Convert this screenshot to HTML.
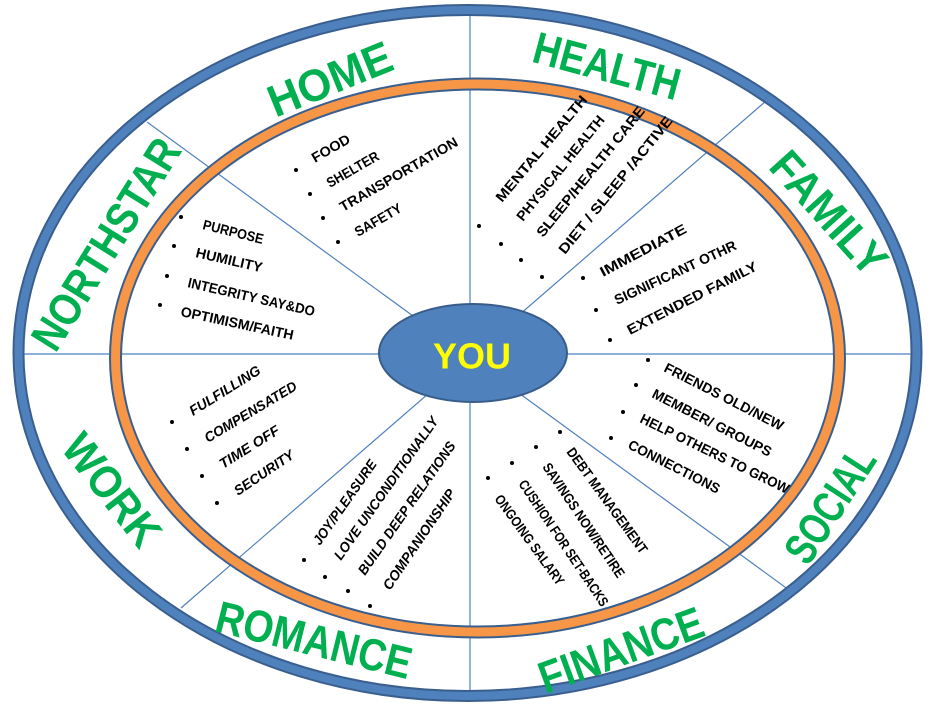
<!DOCTYPE html>
<html><head><meta charset="utf-8"><style>
html,body{margin:0;padding:0;background:#fff;}
svg{display:block;}
.b{font-family:"Liberation Sans",sans-serif;font-weight:bold;fill:#00b050;font-size:45px;}
.s{font-family:"Liberation Sans",sans-serif;font-weight:bold;fill:#000;font-size:14px;}
.i{font-style:italic;}
</style></head><body>
<svg width="939" height="709" viewBox="0 0 939 709" xmlns="http://www.w3.org/2000/svg">
<rect width="939" height="709" fill="#fff"/>
<g stroke="#4f81bd" stroke-width="1.2">
<line x1="470" y1="8" x2="470" y2="698"/>
<line x1="19" y1="354" x2="918" y2="354"/>
<line x1="147" y1="122" x2="789" y2="590"/>
<line x1="766" y1="101" x2="181" y2="608"/>
</g>
<ellipse cx="467.5" cy="353" rx="449" ry="343" fill="none" stroke="#3a5f8f" stroke-width="12"/>
<ellipse cx="467.5" cy="353" rx="449" ry="343" fill="none" stroke="#4f81bd" stroke-width="8"/>
<ellipse cx="477.5" cy="358" rx="362" ry="274" fill="none" stroke="#3a5f8f" stroke-width="13"/>
<ellipse cx="477.5" cy="358" rx="362" ry="274" fill="none" stroke="#f79646" stroke-width="9"/>
<ellipse cx="473" cy="353" rx="94" ry="49" fill="#4f81bd" stroke="#385d8a" stroke-width="2"/>
<text x="472" y="356" text-anchor="middle" dominant-baseline="central" font-family="Liberation Sans, sans-serif" font-weight="bold" font-size="36" fill="#ffff00">YOU</text>

<text class="b" text-anchor="middle" dominant-baseline="central" textLength="130" lengthAdjust="spacingAndGlyphs" transform="translate(330,79) rotate(-22)">HOME</text>
<text class="b" text-anchor="middle" dominant-baseline="central" textLength="150" lengthAdjust="spacingAndGlyphs" transform="translate(607,66) rotate(15)">HEALTH</text>
<text class="b" text-anchor="middle" dominant-baseline="central" textLength="150" lengthAdjust="spacingAndGlyphs" transform="translate(829,213) rotate(48)">FAMILY</text>
<text class="b" text-anchor="middle" dominant-baseline="central" textLength="240" lengthAdjust="spacingAndGlyphs" transform="translate(106,244) rotate(-58)">NORTHSTAR</text>
<text class="b" text-anchor="middle" dominant-baseline="central" textLength="130" lengthAdjust="spacingAndGlyphs" transform="translate(112,490) rotate(52)">WORK</text>
<text class="b" text-anchor="middle" dominant-baseline="central" textLength="200" lengthAdjust="spacingAndGlyphs" transform="translate(314,640) rotate(14)">ROMANCE</text>
<text class="b" text-anchor="middle" dominant-baseline="central" textLength="172" lengthAdjust="spacingAndGlyphs" transform="translate(621,650) rotate(-20)">FINANCE</text>
<text class="b" text-anchor="middle" dominant-baseline="central" textLength="128" lengthAdjust="spacingAndGlyphs" transform="translate(830,505) rotate(-57)">SOCIAL</text>

<g fill="#000">
<circle cx="181" cy="217" r="2"/><circle cx="174" cy="246" r="2"/><circle cx="167" cy="276" r="2"/><circle cx="160" cy="305" r="2"/>
<circle cx="296" cy="170" r="2"/><circle cx="310" cy="194" r="2"/><circle cx="323" cy="218" r="2"/><circle cx="338" cy="242" r="2"/>
<circle cx="479" cy="226" r="2"/><circle cx="501" cy="244" r="2"/><circle cx="521" cy="260" r="2"/><circle cx="542" cy="277" r="2"/>
<circle cx="583" cy="278" r="2"/><circle cx="596" cy="310" r="2"/><circle cx="610" cy="340" r="2"/>
<circle cx="648" cy="360" r="2"/><circle cx="636" cy="385" r="2"/><circle cx="623" cy="412" r="2"/><circle cx="611" cy="438" r="2"/>
<circle cx="560" cy="432" r="2"/><circle cx="536" cy="447" r="2"/><circle cx="512" cy="463" r="2"/><circle cx="488" cy="478" r="2"/>
<circle cx="304" cy="560" r="2"/><circle cx="325" cy="577" r="2"/><circle cx="348" cy="591" r="2"/><circle cx="370" cy="606" r="2"/>
<circle cx="172" cy="422" r="2"/><circle cx="187" cy="449" r="2"/><circle cx="202" cy="476" r="2"/><circle cx="217" cy="503" r="2"/>
</g>

<text class="s" textLength="62" lengthAdjust="spacingAndGlyphs" transform="translate(202,229) rotate(14)">PURPOSE</text>
<text class="s" textLength="68" lengthAdjust="spacingAndGlyphs" transform="translate(195,257) rotate(13)">HUMILITY</text>
<text class="s" textLength="130" lengthAdjust="spacingAndGlyphs" transform="translate(187,287) rotate(13)">INTEGRITY SAY&amp;DO</text>
<text class="s" textLength="115" lengthAdjust="spacingAndGlyphs" transform="translate(180,316) rotate(12)">OPTIMISM/FAITH</text>

<text class="s" textLength="42" lengthAdjust="spacingAndGlyphs" transform="translate(315,163) rotate(-30)">FOOD</text>
<text class="s" textLength="58" lengthAdjust="spacingAndGlyphs" transform="translate(330,188) rotate(-30)">SHELTER</text>
<text class="s" textLength="134" lengthAdjust="spacingAndGlyphs" transform="translate(343,212) rotate(-30)">TRANSPORTATION</text>
<text class="s" textLength="52" lengthAdjust="spacingAndGlyphs" transform="translate(358,237) rotate(-30)">SAFETY</text>

<text class="s" textLength="134" lengthAdjust="spacingAndGlyphs" transform="translate(502,203) rotate(-50)">MENTAL HEALTH</text>
<text class="s" textLength="131" lengthAdjust="spacingAndGlyphs" transform="translate(523,222) rotate(-51)" font-size="12">PHYSICAL HEALTH</text>
<text class="s" textLength="163" lengthAdjust="spacingAndGlyphs" transform="translate(543,238) rotate(-51)">SLEEP/HEALTH CARE</text>
<text class="s" textLength="172" lengthAdjust="spacingAndGlyphs" transform="translate(565,255) rotate(-51)">DIET / SLEEP  /ACTIVE</text>

<text class="s" textLength="96" lengthAdjust="spacingAndGlyphs" transform="translate(603,277) rotate(-28)">IMMEDIATE</text>
<text class="s" textLength="133" lengthAdjust="spacingAndGlyphs" transform="translate(617,305) rotate(-25)" font-size="12">SIGNIFICANT OTHR</text>
<text class="s" textLength="144" lengthAdjust="spacingAndGlyphs" transform="translate(630,335) rotate(-27)">EXTENDED FAMILY</text>

<text class="s" textLength="132" lengthAdjust="spacingAndGlyphs" transform="translate(663,371) rotate(27)">FRIENDS OLD/NEW</text>
<text class="s" textLength="132" lengthAdjust="spacingAndGlyphs" transform="translate(651,397) rotate(27)">MEMBER/ GROUPS</text>
<text class="s" textLength="164" lengthAdjust="spacingAndGlyphs" transform="translate(639,422) rotate(26)">HELP OTHERS TO GROW</text>
<text class="s" textLength="101" lengthAdjust="spacingAndGlyphs" transform="translate(627,448) rotate(27)">CONNECTIONS</text>

<text class="s" font-size="12" textLength="127" lengthAdjust="spacingAndGlyphs" transform="translate(566,452) rotate(54)">DEBT MANAGEMENT</text>
<text class="s" font-size="12" textLength="135" lengthAdjust="spacingAndGlyphs" transform="translate(542,467) rotate(56)">SAVINGS NOW/RETIRE</text>
<text class="s" font-size="12" textLength="149" lengthAdjust="spacingAndGlyphs" transform="translate(518,484) rotate(56)">CUSHION FOR SET-BACKS</text>
<text class="s" font-size="12" textLength="108" lengthAdjust="spacingAndGlyphs" transform="translate(494,499) rotate(54)">ONGOING SALARY</text>

<text class="s i" font-size="13" textLength="100" lengthAdjust="spacingAndGlyphs" transform="translate(320,546) rotate(-55)">JOY/PLEASURE</text>
<text class="s i" font-size="13" textLength="171" lengthAdjust="spacingAndGlyphs" transform="translate(341,561) rotate(-55)">LOVE UNCONDITIONALLY</text>
<text class="s i" font-size="13" textLength="159" lengthAdjust="spacingAndGlyphs" transform="translate(365,576) rotate(-55)">BUILD DEEP RELATIONS</text>
<text class="s i" font-size="13" textLength="118" lengthAdjust="spacingAndGlyphs" transform="translate(390,591) rotate(-56)">COMPANIONSHIP</text>

<text class="s i" font-size="13" textLength="81" lengthAdjust="spacingAndGlyphs" transform="translate(193,416) rotate(-32)">FULFILLING</text>
<text class="s i" font-size="13" textLength="105" lengthAdjust="spacingAndGlyphs" transform="translate(208,443) rotate(-31)">COMPENSATED</text>
<text class="s i" font-size="13" textLength="68" lengthAdjust="spacingAndGlyphs" transform="translate(223,469) rotate(-32)">TIME OFF</text>
<text class="s i" font-size="13" textLength="69" lengthAdjust="spacingAndGlyphs" transform="translate(238,496) rotate(-34)">SECURITY</text>
</svg>
</body></html>
